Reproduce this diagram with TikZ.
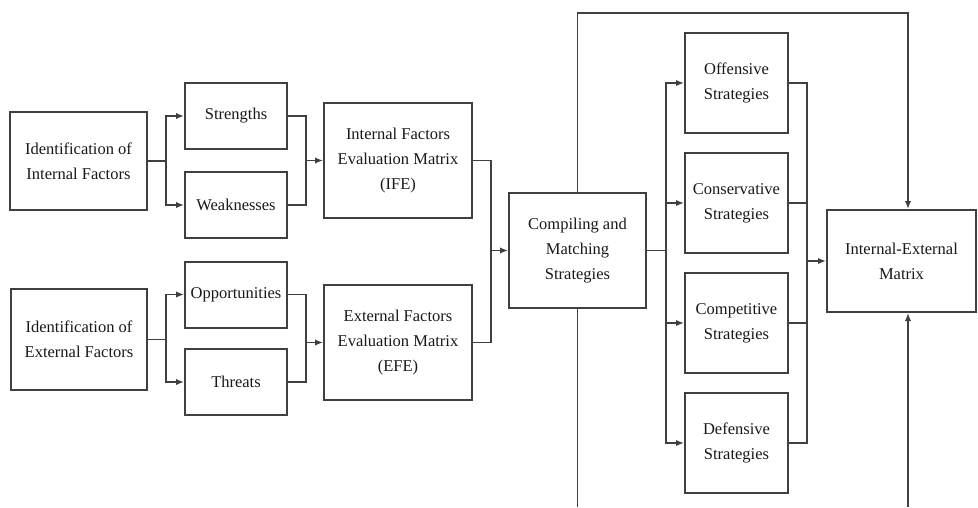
\documentclass[tikz,border=0pt]{standalone}
\usepackage{fontspec}
\setmainfont{Liberation Serif}
\usepackage{tikz}
\usetikzlibrary{arrows.meta, positioning}
\tikzstyle{box} = [rectangle, draw=black!75, line width=2pt, text=black!90, align=center,
inner sep=1pt, font=\fontsize{16.5}{25}\selectfont]
\tikzstyle{arrow} = [line width=1.8pt, draw=black!75, -{Latex[length=8pt,width=6.5pt]}]
\tikzstyle{wire} = [line width=1.8pt, draw=black!75]

\begin{document}
\begin{tikzpicture}[x=1pt, y=-1pt,
        small/.style={box, minimum width=102pt, minimum height=66pt},
        strat/.style={box, minimum width=103pt, minimum height=100pt},
    ]
        \useasboundingbox (0,0) rectangle (978,507);

        % 1. Identificacion de factores
        \node (idint) [box, minimum width=137pt, minimum height=98pt] at (78.5,161) {Identification of\\Internal Factors};
        \node (idext) [box, minimum width=136pt, minimum height=101pt] at (79,339.5) {Identification of\\External Factors};

        % 2. Fortalezas, debilidades, oportunidades, amenazas
        \node (str)  [small] at (236,116) {Strengths};
        \node (weak) [small] at (236,205) {Weaknesses};
        \node (opp)  [small] at (236,294.5) {Opportunities};
        \node (thr)  [small] at (236,382) {Threats};

        % 3. Matrices IFE / EFE
        \node (ife) [box, minimum width=148pt, minimum height=115pt] at (398,160.5) {Internal Factors\\Evaluation Matrix\\(IFE)};
        \node (efe) [box, minimum width=148pt, minimum height=115pt] at (398,342.5) {External Factors\\Evaluation Matrix\\(EFE)};

        % 4. Compilacion y estrategias
        \node (comp) [box, minimum width=137pt, minimum height=115pt] at (577.5,250.5) {Compiling and\\Matching\\Strategies};
        \node (off)  [strat] at (736.5,83)  {Offensive\\Strategies};
        \node (cons) [strat] at (736.5,203) {Conservative\\Strategies};
        \node (compt)[strat] at (736.5,323) {Competitive\\Strategies};
        \node (def)  [strat] at (736.5,443) {Defensive\\Strategies};

        % 5. Matriz interna-externa
        \node (ie) [box, minimum width=149pt, minimum height=102pt] at (901.5,261) {Internal-External\\Matrix};

        % Puntos de union
        \coordinate (s1) at (166,0);
        \coordinate (m1) at (306,0);
        \coordinate (m2) at (491,0);
        \coordinate (s2) at (666,0);
        \coordinate (m3) at (807,0);
        \coordinate (tr) at (908,13);
        \coordinate (bl) at (577,507);
        \coordinate (br) at (908,507);

        % Ramas desde la identificacion
        \draw[arrow] (idint.east) -| (s1 |- str.west) -- (str.west);
        \draw[arrow] (idint.east) -| (s1 |- weak.west) -- (weak.west);
        \draw[arrow] (idext.east) -| (s1 |- opp.west) -- (opp.west);
        \draw[arrow] (idext.east) -| (s1 |- thr.west) -- (thr.west);

        % Uniones hacia las matrices
        \draw[wire] (str.east) -| (m1 |- weak.east) -- (weak.east);
        \draw[arrow] (m1 |- ife.west) -- (ife.west);
        \draw[wire] (opp.east) -| (m1 |- thr.east) -- (thr.east);
        \draw[arrow] (m1 |- efe.west) -- (efe.west);

        \draw[wire] (ife.east) -| (m2 |- efe.east) -- (efe.east);
        \draw[arrow] (m2 |- comp.west) -- (comp.west);

        % Estrategias
        \foreach \s in {off, cons, compt, def}
            \draw[arrow] (comp.east) -| (s2 |- \s.west) -- (\s.west);
        \draw[wire] (off.east) -| (m3 |- def.east) -- (def.east);
        \foreach \s in {cons, compt}
            \draw[wire] (\s.east) -- (m3 |- \s.east);
        \draw[arrow] (m3 |- ie.west) -- (ie.west);

        % Lazos arriba y abajo
        \draw[arrow] (comp.north) |- (tr) -- (tr |- ie.north);
        \draw[wire] (comp.south) -- (comp.south |- bl);
        \draw[arrow] (br) -- (br |- ie.south);

    \end{tikzpicture}
\end{document}
